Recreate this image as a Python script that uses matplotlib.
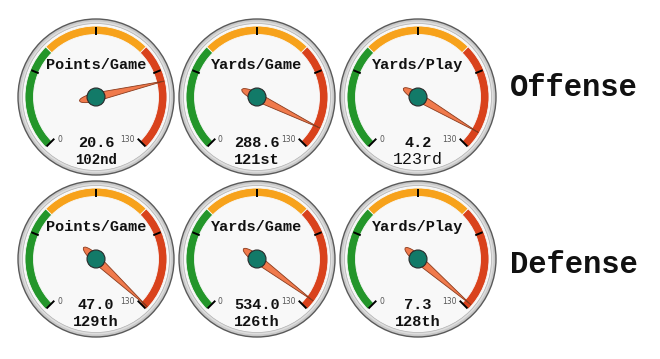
import numpy as np
import matplotlib
matplotlib.use("Agg")
import matplotlib.pyplot as plt
from matplotlib.patches import Circle, Wedge, Polygon

stats = ["Points/Game", "Yards/Game", "Yards/Play"]
units = ["Offense", "Defense"]
offense_values = [20.6, 288.6, 4.2]
offense_ranks = [102, 121, 123]
defense_values = [47.0, 534.0, 7.3]
defense_ranks = [129, 126, 128]
rank_min = 0
rank_max = 130

W, H = 660, 359
R = 78  # outer radius, px
col_x = [96, 257, 418]
row_y = [97, 259]

GREEN = "#23962a"
ORANGE = "#f7a21b"
RED = "#d9421c"
MONO = "Liberation Mono"


def ordinal(n):
    if 10 <= n % 100 <= 20:
        suf = "th"
    else:
        suf = {1: "st", 2: "nd", 3: "rd"}.get(n % 10, "th")
    return f"{n}{suf}"


def angle_for(v):
    # 0 at lower left (225 deg), max at lower right (-45 deg)
    return 225 - (v - rank_min) / (rank_max - rank_min) * 270


def draw_gauge(ax, title, value, rank, rank_style):
    ax.set_xlim(-R - 2, R + 2)
    ax.set_ylim(-R - 2, R + 2)
    ax.set_aspect("equal")
    ax.axis("off")

    ax.add_patch(Circle((0, 0), R, facecolor="#c9c9c9", edgecolor="#5a5a5a", lw=1.0))
    ax.add_patch(Circle((0, 0), R - 2.5, facecolor="#dedede", edgecolor="none"))
    ax.add_patch(Circle((0, 0), R - 4.5, facecolor="#f8f8f8", edgecolor="#b0b0b0", lw=0.5))

    third = (rank_max - rank_min) / 3
    bands = [(rank_min, rank_min + third, GREEN),
             (rank_min + third, rank_min + 2 * third, ORANGE),
             (rank_min + 2 * third, rank_max, RED)]
    for lo, hi, c in bands:
        ax.add_patch(Wedge((0, 0), 71, angle_for(hi), angle_for(lo), width=8.5,
                           facecolor=c, edgecolor="#f8f8f8", lw=0.6))

    for v in np.linspace(rank_min, rank_max, 5):
        t = np.radians(angle_for(v))
        r0 = 59 if v in (rank_min, rank_max) else 62
        ax.plot([r0 * np.cos(t), 70 * np.cos(t)], [r0 * np.sin(t), 70 * np.sin(t)],
                color="black", lw=1.4, solid_capstyle="butt")

    ax.text(-39, -42, str(rank_min), fontsize=5.5, color="#555555",
            ha="left", va="center", family="DejaVu Sans")
    ax.text(39, -42, str(rank_max), fontsize=5.5, color="#555555",
            ha="right", va="center", family="DejaVu Sans")

    ax.text(0, 32, title, fontsize=11, fontweight="bold", family=MONO,
            ha="center", va="center", color="#111111")
    ax.text(0, -46, f"{value:.1f}", fontsize=11, fontweight="bold", family=MONO,
            ha="center", va="center", color="#111111")
    ax.text(0, -63, ordinal(rank), family=MONO, ha="center", va="center",
            color="#111111", **rank_style)

    # needle
    t = np.radians(angle_for(rank))
    s = np.concatenate([np.linspace(-17, 0, 20), np.linspace(0, 70, 30)[1:]])
    w = np.where(s < 0, 4.2 * np.sqrt(np.clip(1 - (s / 17) ** 2, 0, 1)),
                 4.2 * (1 - s / 70))
    xs = np.concatenate([s, s[::-1]])
    ys = np.concatenate([w, -w[::-1]])
    px = xs * np.cos(t) - ys * np.sin(t)
    py = xs * np.sin(t) + ys * np.cos(t)
    ax.add_patch(Polygon(np.column_stack([px, py]), closed=True,
                         facecolor="#f07a4c", edgecolor="#8a3a1c", lw=0.6, zorder=5))
    ax.add_patch(Circle((0, 0), 9, facecolor="#127a68", edgecolor="#2a2a2a",
                        lw=0.8, zorder=6))


fig = plt.figure(figsize=(W / 100, H / 100), dpi=100)
fig.patch.set_facecolor("white")

rows = [(offense_values, offense_ranks), (defense_values, defense_ranks)]
size = 2 * (R + 2)
for ri, (vals, ranks) in enumerate(rows):
    for ci, stat in enumerate(stats):
        cx, cy = col_x[ci], row_y[ri]
        ax = fig.add_axes([(cx - size / 2) / W, (H - cy - size / 2) / H, size / W, size / H])
        style = {"fontsize": 11, "fontweight": "bold"}
        if ri == 0 and ci == 0:
            style = {"fontsize": 10, "fontweight": "bold"}
        if ri == 0 and ci == 2:
            style = {"fontsize": 12, "fontweight": "normal"}
        draw_gauge(ax, stat, vals[ci], ranks[ci], style)

for ri, label in enumerate(units):
    fig.text(574 / W, 1 - (88 + ri * 177) / H, label, fontsize=22, fontweight="bold",
             family=MONO, ha="center", va="center", color="#111111")

fig.savefig("out.png", dpi=100)
